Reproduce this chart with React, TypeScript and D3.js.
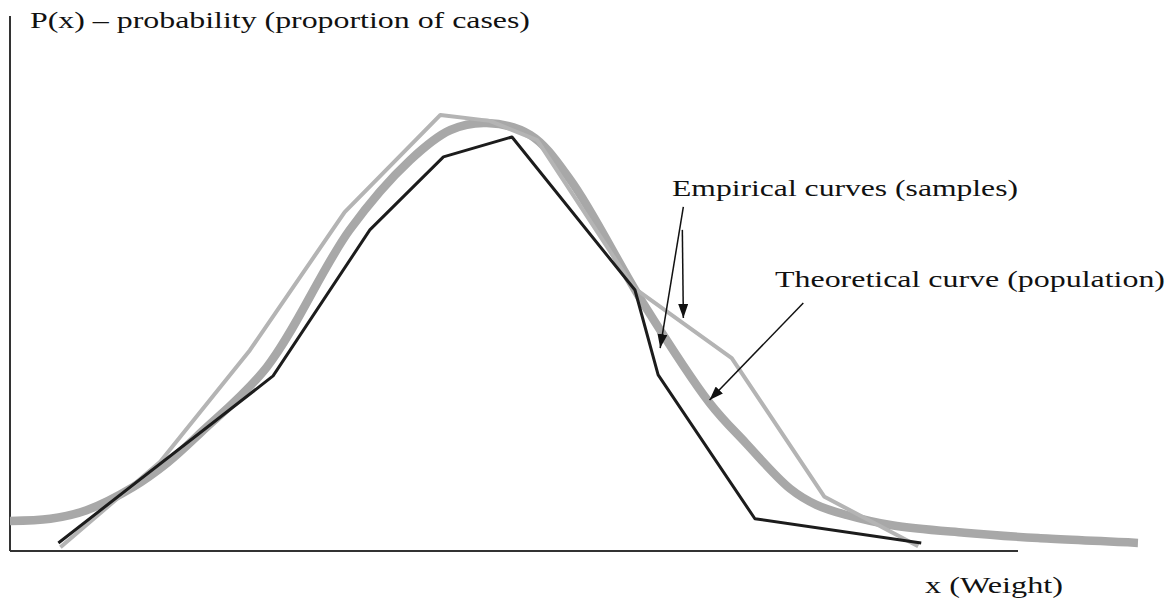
import React from "react";
import * as d3 from "d3";

// Sample 1 (dark empirical curve)
const sample1X = [4.8, 26.1, 35.7, 43.0, 49.8, 62.0, 64.3, 73.9, 90.4];
const sample1Y = [1.5, 32.6, 59.8, 73.4, 77.1, 48.6, 32.8, 6.0, 1.5];

// Sample 2 (light empirical curve)
const sample2X = [5.0, 14.9, 23.8, 33.2, 42.7, 47.6, 52.3, 61.9, 71.6, 80.8, 90.1];
const sample2Y = [0.7, 16.6, 37.4, 63.1, 81.2, 80.1, 76.5, 49.0, 35.9, 10.1, 0.9];

// Theoretical curve (population)
const theoX = [0, 4.0, 7.6, 12.2, 15.6, 18.9, 25.5, 33.7, 39.7, 43.7, 47.3, 51.6, 55.6, 62.8, 69.4, 73.0, 77.4, 80.0, 83.0, 87.5, 94.7, 102.0, 111.9];
const theoY = [5.6, 6.0, 7.6, 11.9, 16.4, 22.0, 34.3, 59.8, 72.8, 78.4, 79.7, 77.5, 69.1, 46.2, 27.6, 20.1, 11.6, 8.6, 6.7, 4.8, 3.4, 2.4, 1.5];

// Annotation arrows in data units
const arrowStarts = [[66.8, 64.1], [66.7, 59.8], [78.7, 46.2]];
const arrowEnds = [[64.5, 37.8], [66.8, 43.4], [69.4, 28.1]];

const yAxisTitle = "P(x) – probability (proportion of cases)";
const xAxisTitle = "x (Weight)";
const empiricalLabel = "Empirical curves (samples)";
const theoreticalLabel = "Theoretical curve (population)";

const W = 1173;
const H = 602;

export default function App() {
  const x = d3.scaleLinear().domain([0, 100]).range([10, 1018]);
  const y = d3.scaleLinear().domain([0, 100]).range([551, 14]);

  const line = d3
    .line<[number, number]>()
    .x((d) => x(d[0]))
    .y((d) => y(d[1]));
  const smooth = d3
    .line<[number, number]>()
    .x((d) => x(d[0]))
    .y((d) => y(d[1]))
    .curve(d3.curveCatmullRom.alpha(0.5));

  const s1 = sample1X.map((v, i) => [v, sample1Y[i]] as [number, number]);
  const s2 = sample2X.map((v, i) => [v, sample2Y[i]] as [number, number]);
  const th = theoX.map((v, i) => [v, theoY[i]] as [number, number]);

  const font = "'Liberation Serif', 'Times New Roman', serif";

  return (
    <svg
      width={W}
      height={H}
      style={{ position: "absolute", left: 0, top: 0, background: "#fff" }}
    >
      <defs>
        <marker
          id="ah"
          viewBox="0 0 14 10"
          refX="14"
          refY="5"
          markerWidth="14"
          markerHeight="10"
          markerUnits="userSpaceOnUse"
          orient="auto"
        >
          <path d="M0,0 L14,5 L0,10 Z" fill="#111" />
        </marker>
      </defs>
      <rect x={0} y={0} width={W} height={H} fill="#fff" />

      {/* axes */}
      <line x1={x(0)} y1={16} x2={x(0)} y2={y(0)} stroke="#333" strokeWidth={2} />
      <line x1={x(0)} y1={y(0)} x2={x(100)} y2={y(0)} stroke="#333" strokeWidth={2} />

      {/* curves */}
      <path d={smooth(th) || ""} fill="none" stroke="#a8a8a8" strokeWidth={8.5} strokeLinejoin="round" />
      <path d={line(s2) || ""} fill="none" stroke="#b4b4b4" strokeWidth={4} strokeLinejoin="round" />
      <path d={line(s1) || ""} fill="none" stroke="#1c1c1c" strokeWidth={3} strokeLinejoin="round" />

      {/* arrows */}
      {arrowStarts.map((s, i) => (
        <line
          key={i}
          x1={x(s[0])}
          y1={y(s[1])}
          x2={x(arrowEnds[i][0])}
          y2={y(arrowEnds[i][1])}
          stroke="#111"
          strokeWidth={1.5}
          markerEnd="url(#ah)"
        />
      ))}

      {/* texts */}
      <text x={30} y={28} fontFamily={font} fontSize={24} fill="#111" textLength={500} lengthAdjust="spacingAndGlyphs">
        {yAxisTitle}
      </text>
      <text x={672} y={196} fontFamily={font} fontSize={24} fill="#111" textLength={346} lengthAdjust="spacingAndGlyphs">
        {empiricalLabel}
      </text>
      <text x={775} y={287} fontFamily={font} fontSize={24} fill="#111" textLength={390} lengthAdjust="spacingAndGlyphs">
        {theoreticalLabel}
      </text>
      <text x={925} y={593} fontFamily={font} fontSize={24} fill="#111" textLength={138} lengthAdjust="spacingAndGlyphs">
        {xAxisTitle}
      </text>
    </svg>
  );
}
